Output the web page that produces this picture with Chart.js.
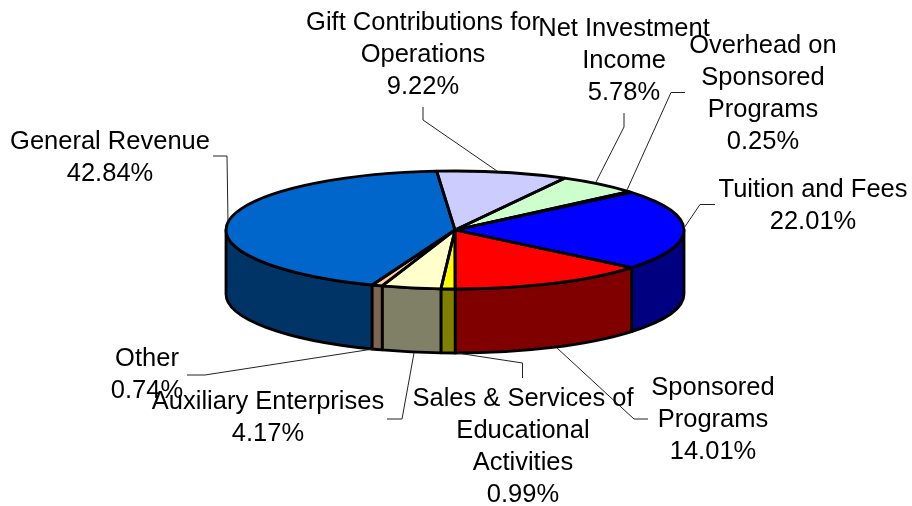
<!DOCTYPE html>
<html>
<head>
<meta charset="utf-8">
<script src="https://cdn.jsdelivr.net/npm/chart.js@4/dist/chart.umd.js"></script>
<style>html,body{margin:0;padding:0;background:#fff}canvas{display:block}</style>
</head>
<body>
<canvas id="c" width="912" height="506"></canvas>
<script>
const categories = ["General Revenue","Gift Contributions for Operations","Net Investment Income","Overhead on Sponsored Programs","Tuition and Fees","Sponsored Programs","Sales & Services of Educational Activities","Auxiliary Enterprises","Other"];
const values = [42.84,9.22,5.78,0.25,22.01,14.01,0.99,4.17,0.74];
const topColors = ["#0066CC","#CCCCFF","#CCFFCC","#CCFFFF","#0000FF","#FF0000","#FFFF00","#FFFFCC","#FFCC99"];
const wallColors = ["#003366","#666680","#668066","#668080","#000080","#800000","#808000","#808066","#806650"];
const labelLines = [["General Revenue"],["Gift Contributions for","Operations"],["Net Investment","Income"],["Overhead on","Sponsored","Programs"],["Tuition and Fees"],["Sponsored","Programs"],["Sales & Services of","Educational","Activities"],["Auxiliary Enterprises"],["Other"]];

const FIRST_ANGLE = 201.2;
const SQUASH = 59 / 229;
const DEPTH = 64;
const FONT = '25.5px "Liberation Sans", Arial, sans-serif';
const LINE_H = 32;
// label anchor: centre x, first baseline
const labelAnchors = [[110,149],[423,30],[624,36],[763,53],[813,197],[713,395],[523,406],[268,409],[147,366]];
const leaders = [
  [[213,156],[227,156],[228,222]],
  [[423,107],[423,120],[497,171]],
  [[624,113],[624,127],[596,182]],
  [[685,92.5],[671,92.5],[627,190]],
  [[715,204.5],[700,204.5],[684,228]],
  [[648,419],[634,419],[557,348]],
  [[457,353],[522.5,363],[522.5,378]],
  [[387,419],[402,419],[414,353]],
  [[187,375],[205,375],[373,349]]
];

const pie3d = {
  id: 'pie3d',
  beforeDatasetsDraw(chart) {
    const ctx = chart.ctx, arcs = chart.getDatasetMeta(0).data;
    const a0 = arcs[0], cx = a0.x, cy = a0.y, rx = a0.outerRadius, ry = rx * SQUASH;
    const two = Math.PI * 2;
    ctx.save();
    ctx.strokeStyle = '#000'; ctx.lineWidth = 2.8; ctx.lineJoin = 'round';
    arcs.forEach((el, i) => {
      for (let k = -2; k <= 2; k++) {
        const a = Math.max(el.startAngle + k * two, 0), b = Math.min(el.endAngle + k * two, Math.PI);
        if (b <= a) continue;
        ctx.beginPath();
        ctx.ellipse(cx, cy, rx, ry, 0, a, b);
        ctx.ellipse(cx, cy + DEPTH, rx, ry, 0, b, a, true);
        ctx.closePath();
        ctx.fillStyle = wallColors[i];
        ctx.fill();
        ctx.stroke();
      }
    });
    ctx.restore();
    ctx.save();
    ctx.translate(cx, cy); ctx.scale(1, SQUASH); ctx.translate(-cx, -cy);
  },
  afterDatasetsDraw(chart) {
    const ctx = chart.ctx, arcs = chart.getDatasetMeta(0).data;
    ctx.restore();
    const a0 = arcs[0], cx = a0.x, cy = a0.y, rx = a0.outerRadius, ry = rx * SQUASH;
    ctx.save();
    ctx.strokeStyle = '#000'; ctx.lineWidth = 2.8; ctx.lineJoin = 'round';
    arcs.forEach(el => {
      ctx.beginPath();
      ctx.moveTo(cx, cy);
      ctx.ellipse(cx, cy, rx, ry, 0, el.startAngle, el.endAngle);
      ctx.closePath();
      ctx.stroke();
    });
    // leader lines
    ctx.strokeStyle = '#222'; ctx.lineWidth = 1; ctx.lineJoin = 'miter';
    leaders.forEach(pts => {
      ctx.beginPath();
      pts.forEach((p, j) => j ? ctx.lineTo(p[0], p[1]) : ctx.moveTo(p[0], p[1]));
      ctx.stroke();
    });
    // labels
    ctx.fillStyle = '#000'; ctx.font = FONT; ctx.textAlign = 'center'; ctx.textBaseline = 'alphabetic';
    labelLines.forEach((lines, i) => {
      const [x, y] = labelAnchors[i];
      const all = lines.concat(values[i].toFixed(2) + '%');
      all.forEach((t, j) => ctx.fillText(t, x, y + j * LINE_H));
    });
    ctx.restore();
  }
};

new Chart(document.getElementById('c'), {
  type: 'pie',
  data: { labels: categories, datasets: [{ data: values, backgroundColor: topColors, borderWidth: 0, clip: false }] },
  options: {
    responsive: false,
    animation: false,
    rotation: FIRST_ANGLE,
    layout: { padding: { left: 226, right: 228, top: 1, bottom: 47 } },
    plugins: { legend: { display: false }, tooltip: { enabled: false }, title: { display: false } }
  },
  plugins: [pie3d]
});
</script>
</body>
</html>
